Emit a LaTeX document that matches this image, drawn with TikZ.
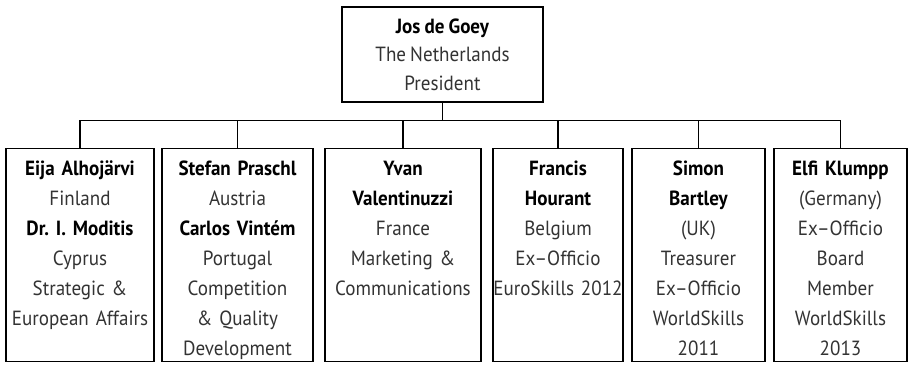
\documentclass[tikz,border=0pt]{standalone}
\usepackage{fontspec}
\setmainfont{PT Sans}[FakeStretch=0.93]
\usepackage{tikz}
\frenchspacing
\newcommand\who[1]{\textcolor{black}{\textbf{#1}}}
\newcommand\tightsp{\spaceskip=0.2em\relax}
\begin{document}
\begin{tikzpicture}[x=1pt,y=1pt,
	head/.style={rectangle, draw, line width=1.1pt, minimum width=201pt, minimum height=95pt, align=center, text=black!80, font=\fontsize{20.5}{28.5}\selectfont\tightsp},
	member/.style={rectangle, draw, line width=1.1pt, inner ysep=0pt, inner xsep=-6pt, anchor=north, align=center, text=black!80, text height=26.5pt, text depth=186.5pt, font=\fontsize{20.5}{30}\selectfont\tightsp}]
		\useasboundingbox (0,0) rectangle (909,-364);
		% President on top, board members in one row below
		\path (442.5,-54.5) node[head](jos){\who{Jos de Goey}\\The Netherlands\\President};
		\path (80,-148) node[member, text width=160pt](eija){\who{Eija Alhojärvi}\\Finland\\\who{Dr. I. Moditis}\\Cyprus\\Strategic \&\\European Affairs}
		(237.5,-148) node[member, text width=163pt](stefan){\who{Stefan Praschl}\\Austria\\\who{Carlos Vintém}\\Portugal\\Competition\\\& Quality\\Development}
		(403,-148) node[member, text width=168pt](yvan){\who{Yvan}\\\who{Valentinuzzi}\\France\\Marketing \&\\Communications}
		(558,-148) node[member, text width=142pt](francis){\who{Francis}\\\who{Hourant}\\Belgium\\Ex–Officio\\EuroSkills 2012}
		(698.5,-148) node[member, text width=145pt](simon){\who{Simon}\\\who{Bartley}\\(UK)\\Treasurer\\Ex–Officio\\WorldSkills\\2011}
		(840.5,-148) node[member, text width=145pt](elfi){\who{Elfi Klumpp}\\(Germany)\\Ex–Officio\\Board\\Member\\WorldSkills\\2013};
		\foreach \n in {eija,stefan,yvan,francis,simon,elfi}
			\draw[line width=1.1pt] (jos.south) -- ++(0,-18) -| (\n.north);
	\end{tikzpicture}
\end{document}
